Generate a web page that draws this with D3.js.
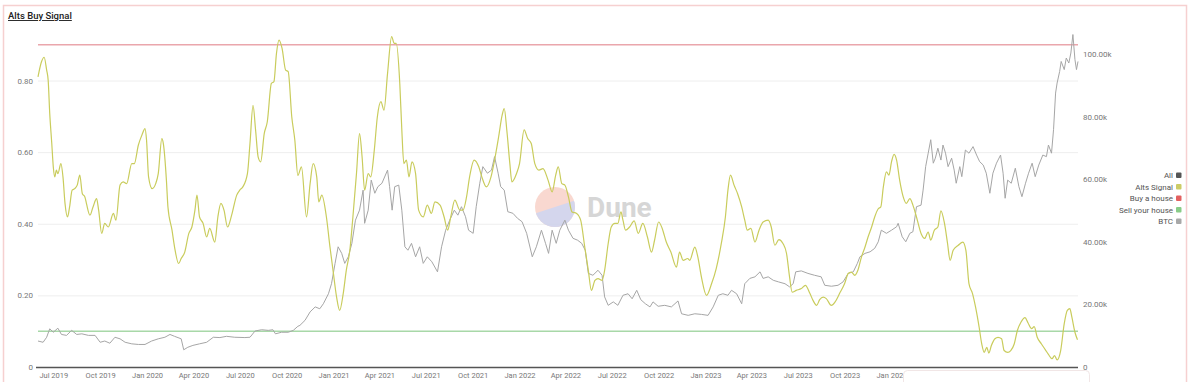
<!DOCTYPE html>
<html>
<head>
<meta charset="utf-8">
<script src="https://cdn.jsdelivr.net/npm/d3@7"></script>
<style>
  html, body { margin: 0; padding: 0; background: #fff; }
  svg { display: block; font-family: Roboto, "Open Sans", sans-serif; }
</style>
</head>
<body>
<svg id="chart" width="1200" height="382"></svg>
<script>
// ---------------- DATA ----------------
const chartTitle = "Alts Buy Signal";

const altsDates = [
"2019-06-01","2019-06-08","2019-06-13","2019-06-18","2019-06-21","2019-06-24","2019-06-28","2019-07-01","2019-07-04","2019-07-07",
"2019-07-10","2019-07-16","2019-07-20","2019-07-24","2019-07-29","2019-08-02","2019-08-07","2019-08-12","2019-08-17","2019-08-22",
"2019-08-27","2019-09-01","2019-09-04","2019-09-11","2019-09-17","2019-09-24","2019-09-28","2019-10-04","2019-10-10","2019-10-17",
"2019-10-27","2019-11-01","2019-11-09","2019-11-15","2019-11-22","2019-12-02","2019-12-07","2019-12-15","2019-12-22","2019-12-28",
"2019-12-31","2020-01-04","2020-01-11","2020-01-18","2020-01-23","2020-01-30","2020-02-02","2020-02-08","2020-02-11","2020-02-19",
"2020-02-24","2020-03-03","2020-03-08","2020-03-15","2020-03-23","2020-03-29","2020-04-04","2020-04-08","2020-04-13","2020-04-20",
"2020-04-27","2020-05-03","2020-05-13","2020-05-19","2020-05-25","2020-05-31","2020-06-07","2020-06-15","2020-06-25","2020-07-01",
"2020-07-07","2020-07-16","2020-07-21","2020-07-27","2020-08-01","2020-08-06","2020-08-11","2020-08-18","2020-08-24","2020-09-01",
"2020-09-06","2020-09-11","2020-09-16","2020-09-22","2020-09-29","2020-10-04","2020-10-11","2020-10-17","2020-10-23","2020-10-30",
"2020-11-09","2020-11-16","2020-11-22","2020-11-29","2020-12-03","2020-12-09","2020-12-18","2020-12-25","2020-12-31","2021-01-07",
"2021-01-13","2021-01-20","2021-01-26","2021-02-02","2021-02-08","2021-02-15","2021-02-21","2021-02-26","2021-03-03","2021-03-10",
"2021-03-15","2021-03-22","2021-03-28","2021-04-04","2021-04-10","2021-04-17","2021-04-25","2021-04-30","2021-05-04","2021-05-11",
"2021-05-15","2021-05-19","2021-05-24","2021-05-29","2021-06-04","2021-06-11","2021-06-17","2021-06-26","2021-07-04","2021-07-12",
"2021-07-19","2021-07-29","2021-08-06","2021-08-13","2021-08-19","2021-08-27","2021-09-06","2021-09-12","2021-09-19","2021-09-25",
"2021-10-04","2021-10-13","2021-10-19","2021-10-28","2021-11-06","2021-11-13","2021-11-21","2021-11-28","2021-12-02","2021-12-07",
"2021-12-13","2021-12-17","2021-12-26","2022-01-01","2022-01-10","2022-01-17","2022-01-24","2022-01-31","2022-02-08","2022-02-16",
"2022-02-26","2022-03-06","2022-03-13","2022-03-18","2022-03-25","2022-03-31","2022-04-07","2022-04-14","2022-04-23","2022-05-01",
"2022-05-09","2022-05-16","2022-05-22","2022-05-29","2022-06-04","2022-06-12","2022-06-17","2022-06-24","2022-06-30","2022-07-07",
"2022-07-13","2022-07-19","2022-07-23","2022-07-28","2022-08-05","2022-08-14","2022-08-22","2022-08-31","2022-09-09","2022-09-17",
"2022-09-23","2022-10-01","2022-10-08","2022-10-16","2022-10-25","2022-11-05","2022-11-11","2022-11-18","2022-11-27","2022-12-01",
"2022-12-11","2022-12-17","2022-12-24","2023-01-03","2023-01-13","2023-01-22","2023-02-01","2023-02-09","2023-02-14","2023-02-19",
"2023-02-26","2023-03-05","2023-03-13","2023-03-19","2023-03-24","2023-03-31","2023-04-08","2023-04-16","2023-04-24","2023-05-04",
"2023-05-10","2023-05-17","2023-05-25","2023-06-02","2023-06-09","2023-06-15","2023-06-20","2023-06-28","2023-07-08","2023-07-16",
"2023-07-25","2023-07-31","2023-08-07","2023-08-13","2023-08-20","2023-08-26","2023-09-05","2023-09-12","2023-09-21","2023-10-01",
"2023-10-08","2023-10-14","2023-10-21","2023-10-27","2023-11-03","2023-11-10","2023-11-16","2023-11-23","2023-11-29","2023-12-06",
"2023-12-11","2023-12-16","2023-12-22","2023-12-27","2024-01-01","2024-01-06","2024-01-11","2024-01-17","2024-01-24","2024-01-30",
"2024-02-06","2024-02-12","2024-02-19","2024-02-28","2024-03-06","2024-03-13","2024-03-18","2024-03-25","2024-04-01","2024-04-07",
"2024-04-14","2024-04-20","2024-04-25","2024-05-01","2024-05-11","2024-05-20","2024-05-26","2024-06-01","2024-06-08","2024-06-14",
"2024-06-21","2024-06-26","2024-07-01","2024-07-06","2024-07-10","2024-07-15","2024-07-22","2024-07-28","2024-08-04","2024-08-09",
"2024-08-16","2024-08-22","2024-08-29","2024-09-04","2024-09-11","2024-09-19","2024-09-25","2024-10-02","2024-10-07","2024-10-13",
"2024-10-21","2024-10-29","2024-11-04","2024-11-11","2024-11-16","2024-11-21","2024-11-28","2024-12-05","2024-12-11","2024-12-16",
"2024-12-20","2024-12-26","2024-12-31"
];
const altsValues = [
0.81,0.853,0.865,0.829,0.80,0.709,0.625,0.559,0.531,0.55,
0.54,0.568,0.531,0.457,0.419,0.447,0.494,0.498,0.508,0.536,
0.484,0.475,0.457,0.424,0.447,0.47,0.438,0.373,0.401,0.391,
0.429,0.41,0.508,0.517,0.512,0.568,0.568,0.62,0.648,0.666,
0.634,0.531,0.498,0.512,0.54,0.638,0.624,0.522,0.447,0.382,
0.335,0.289,0.303,0.321,0.373,0.391,0.438,0.48,0.419,0.401,
0.363,0.387,0.349,0.419,0.457,0.438,0.391,0.424,0.48,0.494,
0.503,0.54,0.624,0.731,0.662,0.587,0.573,0.652,0.685,0.792,
0.797,0.876,0.913,0.89,0.829,0.825,0.699,0.634,0.535,0.559,
0.419,0.512,0.568,0.531,0.461,0.48,0.419,0.335,0.27,0.195,
0.158,0.205,0.27,0.326,0.419,0.54,0.652,0.587,0.494,0.54,
0.531,0.606,0.699,0.741,0.717,0.82,0.923,0.904,0.904,0.792,
0.662,0.568,0.578,0.531,0.573,0.54,0.438,0.419,0.452,0.429,
0.461,0.452,0.419,0.382,0.419,0.466,0.438,0.438,0.475,0.531,
0.578,0.559,0.531,0.503,0.531,0.578,0.643,0.704,0.722,0.662,
0.568,0.517,0.54,0.568,0.662,0.638,0.624,0.568,0.55,0.554,
0.522,0.489,0.536,0.559,0.512,0.508,0.475,0.433,0.429,0.41,
0.335,0.27,0.214,0.242,0.247,0.242,0.27,0.345,0.391,0.401,
0.401,0.433,0.41,0.382,0.391,0.408,0.373,0.401,0.363,0.321,
0.354,0.405,0.387,0.349,0.321,0.279,0.321,0.298,0.303,0.298,
0.335,0.307,0.251,0.2,0.233,0.275,0.345,0.419,0.494,0.536,
0.508,0.484,0.447,0.41,0.382,0.387,0.349,0.382,0.405,0.41,
0.391,0.34,0.356,0.345,0.317,0.251,0.209,0.214,0.219,0.228,
0.205,0.186,0.172,0.188,0.195,0.191,0.172,0.181,0.205,0.233,
0.261,0.265,0.256,0.27,0.307,0.335,0.363,0.391,0.419,0.442,
0.447,0.503,0.545,0.536,0.573,0.594,0.578,0.522,0.475,0.457,
0.47,0.452,0.419,0.373,0.359,0.377,0.354,0.382,0.391,0.436,
0.401,0.345,0.298,0.326,0.34,0.349,0.326,0.233,0.205,0.167,
0.111,0.065,0.041,0.055,0.039,0.06,0.079,0.083,0.079,0.046,
0.041,0.046,0.065,0.102,0.125,0.138,0.123,0.107,0.113,0.083,
0.065,0.048,0.035,0.023,0.032,0.02,0.046,0.121,0.158,0.163,
0.139,0.097,0.076
];

const btcDates = [
"2019-06-01","2019-06-11","2019-06-18","2019-06-24","2019-07-01","2019-07-10","2019-07-17","2019-07-27","2019-08-06","2019-08-16",
"2019-08-26","2019-09-08","2019-09-21","2019-10-01","2019-10-10","2019-10-20","2019-10-30","2019-11-09","2019-11-19","2019-12-02",
"2019-12-15","2019-12-28","2020-01-10","2020-01-23","2020-02-05","2020-02-15","2020-02-24","2020-03-08","2020-03-13","2020-03-21",
"2020-03-31","2020-04-13","2020-04-27","2020-05-10","2020-05-23","2020-06-05","2020-06-21","2020-07-11","2020-07-21","2020-07-31",
"2020-08-13","2020-08-26","2020-09-04","2020-09-09","2020-09-21","2020-10-04","2020-10-14","2020-10-23","2020-10-27","2020-11-06",
"2020-11-16","2020-11-26","2020-12-05","2020-12-12","2020-12-22","2020-12-28","2021-01-04","2021-01-10","2021-01-17","2021-01-23",
"2021-01-30","2021-02-06","2021-02-13","2021-02-21","2021-02-28","2021-03-03","2021-03-10","2021-03-16","2021-03-23","2021-03-29",
"2021-04-06","2021-04-17","2021-04-21","2021-04-26","2021-05-01","2021-05-09","2021-05-15","2021-05-21","2021-05-27","2021-06-03",
"2021-06-11","2021-06-19","2021-06-26","2021-07-04","2021-07-13","2021-07-24","2021-08-01","2021-08-09","2021-08-17","2021-08-26",
"2021-09-02","2021-09-09","2021-09-17","2021-09-23","2021-10-02","2021-10-08","2021-10-15","2021-10-21","2021-10-30","2021-11-07",
"2021-11-13","2021-11-20","2021-11-25","2021-12-02","2021-12-09","2021-12-19","2021-12-28","2022-01-06","2022-01-15","2022-01-26",
"2022-02-03","2022-02-13","2022-02-21","2022-02-27","2022-03-06","2022-03-14","2022-03-21","2022-03-31","2022-04-07","2022-04-16",
"2022-04-25","2022-05-03","2022-05-10","2022-05-16","2022-05-25","2022-06-04","2022-06-12","2022-06-17","2022-06-24","2022-07-04",
"2022-07-13","2022-07-23","2022-08-02","2022-08-10","2022-08-19","2022-08-27","2022-09-05","2022-09-14","2022-09-20","2022-09-30",
"2022-10-13","2022-10-26","2022-11-08","2022-11-15","2022-11-28","2022-12-11","2022-12-24","2023-01-06","2023-01-16","2023-01-26",
"2023-02-04","2023-02-14","2023-02-21","2023-03-03","2023-03-13","2023-03-19","2023-03-29","2023-04-08","2023-04-18","2023-04-24",
"2023-05-04","2023-05-14","2023-05-24","2023-06-06","2023-06-15","2023-06-22","2023-06-27","2023-07-08","2023-07-21","2023-08-03",
"2023-08-16","2023-08-23","2023-09-05","2023-09-18","2023-09-28","2023-10-08","2023-10-18","2023-10-26","2023-10-31","2023-11-10",
"2023-11-20","2023-11-29","2023-12-06","2023-12-12","2023-12-22","2024-01-01","2024-01-11","2024-01-14","2024-01-22","2024-01-29",
"2024-02-06","2024-02-12","2024-02-19","2024-02-28","2024-03-03","2024-03-08","2024-03-13","2024-03-18","2024-03-23","2024-03-27",
"2024-04-01","2024-04-07","2024-04-11","2024-04-16","2024-04-21","2024-04-28","2024-05-03","2024-05-07","2024-05-14","2024-05-18",
"2024-05-25","2024-06-01","2024-06-09","2024-06-16","2024-06-22","2024-06-29","2024-07-05","2024-07-12","2024-07-18","2024-07-25",
"2024-08-02","2024-08-07","2024-08-11","2024-08-16","2024-08-23","2024-08-31","2024-09-07","2024-09-13","2024-09-20","2024-09-26",
"2024-10-03","2024-10-09","2024-10-16","2024-10-24","2024-10-31","2024-11-04","2024-11-10","2024-11-14","2024-11-18","2024-11-21",
"2024-11-26","2024-11-29","2024-12-05","2024-12-09","2024-12-14","2024-12-18","2024-12-22","2024-12-26","2024-12-29","2025-01-01"
];
const btcValues = [
8300,7900,9500,12200,11100,12400,10400,10100,11700,10400,
10600,10100,10100,7900,8300,7600,9500,9000,7900,7400,
7200,7200,8300,9000,9500,10400,9800,9000,5500,6300,
6900,7400,7900,9500,9400,9800,9500,9400,9500,11500,
11900,11700,11900,10600,11100,11100,11700,13000,13300,14900,
17600,19200,18600,20200,23400,26600,33100,38400,36300,33100,
35200,39500,46900,50100,56500,45900,50100,59700,55500,57600,
58700,62900,57600,50100,57600,58100,50100,38400,37300,39500,
35200,38400,33100,35200,33600,30400,38400,43700,46900,50100,
48500,51200,48000,43700,42700,51200,58700,64000,61900,62900,
67200,61900,57600,56500,49600,49100,47500,46400,42700,35200,
38400,43700,39500,36300,43700,39500,43700,46900,43700,41100,
40500,39500,37300,29900,29300,30900,29300,22400,19700,20800,
19700,22900,23400,21800,24500,21500,20200,19200,20800,19400,
19700,19200,21100,17000,16500,17000,16800,16500,19200,22900,
23400,22900,24500,23400,20200,26600,28300,28800,30400,28300,
28800,27700,27200,26600,25600,26600,30400,30700,29900,29300,
28800,26100,25800,26100,27200,29900,30400,33100,35200,36300,
36800,37900,40000,43700,42700,43700,44800,45900,41600,40000,
42700,43200,51200,51700,56500,64000,68300,72600,65100,66700,
69900,66100,70900,68300,64000,66700,62900,58700,64000,60800,
69300,68300,70400,67700,65600,64500,61900,55500,61900,65100,
67700,61900,53900,59700,58700,63500,57600,54400,58700,61900,
65100,60800,64500,67700,67200,70900,68300,75800,87500,90700,
94400,97600,95000,98700,97100,100300,106200,98200,95000,97600
];

const buyHouseLevel = 0.9;
const sellHouseLevel = 0.1;
const leftTicks = [0, 0.2, 0.4, 0.6, 0.8];
const rightTicks = [0, 20000, 40000, 60000, 80000, 100000];
const lastVisibleTick = "2024-01-01";
const legendItems = ["All", "Alts Signal", "Buy a house", "Sell your house", "BTC"];
const legendColors = ["#555555", "#cccc66", "#e36060", "#88cc88", "#a8a8a8"];

// ---------------- DRAW ----------------
const parse = d3.utcParse("%Y-%m-%d");
const alts = altsDates.map((d, i) => ({ date: parse(d), value: altsValues[i] }));
const btc = btcDates.map((d, i) => ({ date: parse(d), value: btcValues[i] }));

const svg = d3.select("#chart");
const plot = { left: 38, right: 1078, top: 34, bottom: 367 };

const x = d3.scaleUtc()
  .domain([parse("2019-06-01"), parse("2025-01-01")])
  .range([plot.left, plot.right]);
const yL = d3.scaleLinear().domain([0, 0.93]).range([plot.bottom, plot.top]);
const yR = d3.scaleLinear().domain([0, 106370]).range([plot.bottom, plot.top]);

// frame
svg.append("rect")
  .attr("x", 3.5).attr("y", 5.5).attr("width", 1183).attr("height", 400)
  .attr("fill", "none").attr("stroke", "#f6d0d0").attr("stroke-width", 1.5);

// title
svg.append("text")
  .attr("x", 8).attr("y", 19)
  .attr("font-size", 9.5).attr("font-weight", 500).attr("fill", "#222")
  .attr("text-decoration", "underline")
  .text(chartTitle);

// grid lines
svg.append("g").selectAll("line").data(leftTicks.filter(t => t > 0)).join("line")
  .attr("x1", plot.left).attr("x2", plot.right)
  .attr("y1", d => yL(d) + 0.5).attr("y2", d => yL(d) + 0.5)
  .attr("stroke", "#eeeeee").attr("stroke-width", 1);

// left axis
const gL = svg.append("g").attr("transform", `translate(${plot.left - 5},0)`)
  .call(d3.axisLeft(yL).tickValues(leftTicks).tickSize(0).tickPadding(0)
    .tickFormat(d => d === 0 ? "0" : d3.format(".2f")(d)));
gL.select(".domain").remove();
gL.selectAll("text").attr("font-size", 8).attr("fill", "#777").attr("font-family", "Roboto, sans-serif");

// right axis
const gR = svg.append("g").attr("transform", `translate(${plot.right + 5},0)`)
  .call(d3.axisRight(yR).tickValues(rightTicks).tickSize(0).tickPadding(0)
    .tickFormat(d => d === 0 ? "0" : d3.format(".2f")(d / 1000) + "k"));
gR.select(".domain").remove();
gR.selectAll("text").attr("font-size", 8).attr("fill", "#777").attr("font-family", "Roboto, sans-serif");

// watermark
const wm = svg.append("g").attr("opacity", 0.85);
const defs = svg.append("defs");
defs.append("clipPath").attr("id", "logoClip")
  .append("circle").attr("cx", 555).attr("cy", 207).attr("r", 20);
wm.append("circle").attr("cx", 555).attr("cy", 207).attr("r", 20).attr("fill", "#f8d2c8");
wm.append("path").attr("clip-path", "url(#logoClip)")
  .attr("d", "M530,215 L580,199 L580,230 L530,230 Z").attr("fill", "#cdd0ea");
wm.append("text").attr("x", 587).attr("y", 217)
  .attr("font-size", 28).attr("font-weight", 700).attr("fill", "#d0d0d0")
  .attr("font-family", "Roboto, sans-serif").text("Dune");

// threshold lines
svg.append("line").attr("x1", plot.left).attr("x2", plot.right)
  .attr("y1", yL(buyHouseLevel)).attr("y2", yL(buyHouseLevel))
  .attr("stroke", "#eaa6ac").attr("stroke-width", 1.6);
svg.append("line").attr("x1", plot.left).attr("x2", plot.right)
  .attr("y1", yL(sellHouseLevel)).attr("y2", yL(sellHouseLevel))
  .attr("stroke", "#a8d8a8").attr("stroke-width", 1.4);

// BTC line
svg.append("path").datum(btc)
  .attr("fill", "none").attr("stroke", "#a6a6a6").attr("stroke-width", 1)
  .attr("d", d3.line().x(d => x(d.date)).y(d => yR(d.value)));

// Alts line
svg.append("path").datum(alts)
  .attr("fill", "none").attr("stroke", "#c9cc5c").attr("stroke-width", 1.2)
  .attr("d", d3.line().curve(d3.curveMonotoneX).x(d => x(d.date)).y(d => yL(d.value)));

// x axis
const xTicks = x.ticks(d3.utcMonth.every(3)).filter(d => d <= parse(lastVisibleTick));
const gX = svg.append("g").attr("transform", `translate(0,${plot.bottom})`)
  .call(d3.axisBottom(x)
    .tickValues(xTicks)
    .tickSize(0).tickPadding(6)
    .tickFormat(d3.utcFormat("%b %Y")));
gX.select(".domain").attr("d", `M${plot.left - 2},0.5H${plot.right}`).attr("stroke", "#555").attr("stroke-width", 1.5);
gX.selectAll("text").attr("font-size", 7.5).attr("fill", "#777").attr("font-family", "Roboto, sans-serif");

// tooltip-like box covering the right part of the x axis
svg.append("rect").attr("x", 903.5).attr("y", 370.5).attr("width", 186).attr("height", 30).attr("rx", 4)
  .attr("fill", "#fff").attr("stroke", "#f1e6e6");

// legend
const lg = svg.append("g");
legendItems.forEach((name, i) => {
  const yy = 175 + i * 11.5;
  lg.append("text").attr("x", 1173).attr("y", yy + 3)
    .attr("text-anchor", "end").attr("font-size", 8).attr("fill", "#555")
    .attr("font-family", "Roboto, sans-serif").text(name);
  lg.append("rect").attr("x", 1176).attr("y", yy - 2.5).attr("width", 5.5).attr("height", 5.5).attr("rx", 1)
    .attr("fill", legendColors[i]);
});
</script>
</body>
</html>
